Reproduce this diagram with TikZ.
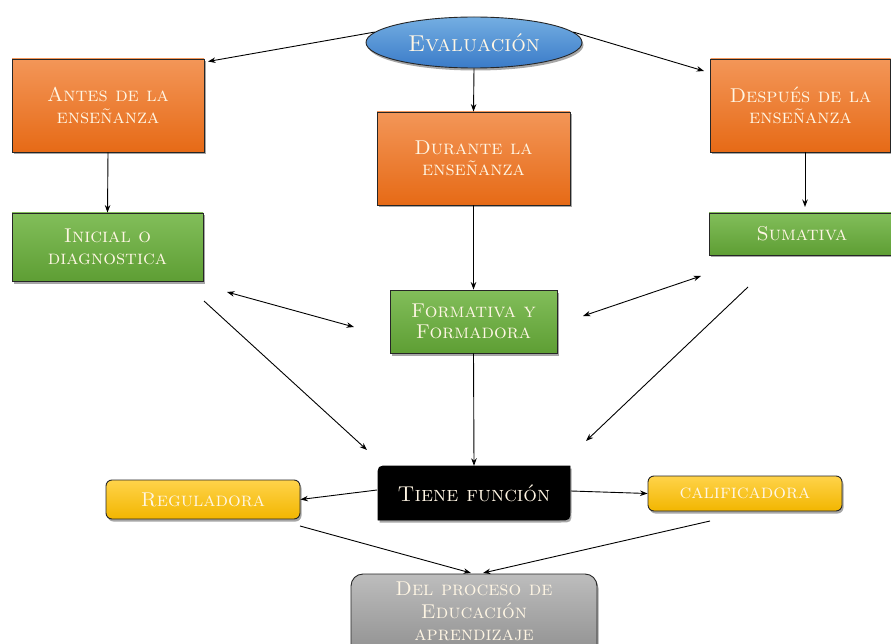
\documentclass[tikz,border=0pt]{standalone}
\usepackage{fontspec}
\usetikzlibrary{shadows,arrows.meta,shapes.geometric}
\definecolor{txt}{HTML}{FFF6E4}
\definecolor{blT}{HTML}{74AEE2}
\definecolor{blB}{HTML}{3A7BC8}
\definecolor{orT}{HTML}{F39658}
\definecolor{orB}{HTML}{E66A16}
\definecolor{grT}{HTML}{82BE5A}
\definecolor{grB}{HTML}{5E9E34}
\definecolor{yeT}{HTML}{FFD34A}
\definecolor{yeB}{HTML}{F2B600}
\definecolor{gyT}{HTML}{BDBDBD}
\definecolor{gyB}{HTML}{8A8A8A}
\tikzset{
  lbl/.style={text=txt, align=center, font=\scshape\fontsize{20}{21.5}\selectfont, inner sep=0pt},
  shad/.style={drop shadow={shadow xshift=1.5pt, shadow yshift=-2.5pt, opacity=0.35, fill=black}},
  boxbase/.style={lbl, shad, draw=black!85, line width=0.9pt},
  obox/.style={boxbase, top color=orT, bottom color=orB},
  gbox/.style={boxbase, top color=grT, bottom color=grB},
  ybox/.style={boxbase, top color=yeT, bottom color=yeB, rounded corners=6pt},
  gybox/.style={boxbase, top color=gyT, bottom color=gyB, rounded corners=12pt},
  arr/.style={-{Stealth[length=7.5pt,width=5.5pt]}, line width=0.9pt, black},
  darr/.style={{Stealth[length=7.5pt,width=5.5pt]}-{Stealth[length=7.5pt,width=5.5pt]}, line width=0.9pt, black}
}
\begin{document}
\begin{tikzpicture}[x=1pt,y=-1pt]
\clip (0,0) rectangle (891,644);
\fill[white] (0,0) rectangle (891,644);

% nodes
\node[boxbase, ellipse, top color=blT, bottom color=blB, minimum width=216pt, minimum height=51pt,
      font=\scshape\fontsize{23}{26}\selectfont] (eval) at (474,42.5) {Evaluación};
\node[obox, minimum width=192pt, minimum height=93pt] (antes) at (108,105.5) {Antes de la\\enseñanza};
\node[obox, minimum width=193pt, minimum height=93pt] (durante) at (473.5,158.5) {Durante la\\enseñanza};
\node[obox, minimum width=180pt, minimum height=93pt] (despues) at (800.5,105.5) {Después de la\\enseñanza};
\node[gbox, minimum width=191pt, minimum height=68pt] (inicial) at (107.5,247) {Inicial o\\diagnostica};
\node[gbox, minimum width=167pt, minimum height=63pt] (formativa) at (473.5,321.5) {Formativa y\\Formadora};
\node[gbox, minimum width=186pt, minimum height=42pt] (sumativa) at (802,234) {Sumativa};
\node[ybox, minimum width=194pt, minimum height=39pt] (regul) at (203,499.5) {Reguladora};
\node[ybox, minimum width=194pt, minimum height=35pt] (calif) at (745,493.5) {calificadora};
\node[gybox, minimum width=246pt, minimum height=92pt] (proceso) at (474,620) {};
\node[lbl, anchor=north, font=\scshape\fontsize{20}{22.5}\selectfont] (procesotxt) at (474,582) {Del proceso de\\Educación\\aprendizaje};

% Tiene funcion (diagonal rounded corners)
\path[shad, fill=black, draw=black, line width=0.9pt]
  (378,520) -- (378,477) .. controls (378,466) .. (389,466) -- (570,466) -- (570,509)
  .. controls (570,520) .. (559,520) -- cycle;
\node[lbl, minimum width=192pt, minimum height=54pt, font=\scshape\fontsize{21.5}{24}\selectfont] (tiene) at (474,493) {Tiene función};

% free coordinates
\coordinate (a1) at (208,61.5);
\coordinate (a2) at (704,71);
\coordinate (ds) at (805,152);
\coordinate (de) at (805,207);
\coordinate (d1a) at (227,292);
\coordinate (d1b) at (354,327);
\coordinate (d2a) at (583,316);
\coordinate (d2b) at (701,276);
\coordinate (l1s) at (204,301);
\coordinate (l1e) at (367,450);
\coordinate (l2s) at (748,287);
\coordinate (l2e) at (586,441);
\coordinate (r1s) at (300,526);
\coordinate (r1e) at (471,573);
\coordinate (r2s) at (710,521);
\coordinate (r2e) at (483,573);
\coordinate (tl) at (377,490);
\coordinate (tr) at (571,491);

% connectors
\draw[arr] (eval.174) -- (a1);
\draw[arr] (eval.6) -- (a2);
\draw[arr] (eval.south) -- (durante.north);
\draw[arr] (antes.south) -- (inicial.north);
\draw[arr] (ds) -- (de);
\draw[arr] (durante.south) -- (formativa.north);
\draw[darr] (d1a) -- (d1b);
\draw[darr] (d2a) -- (d2b);
\draw[arr] (l1s) -- (l1e);
\draw[arr] (l2s) -- (l2e);
\draw[arr] (formativa.south) -- (tiene.north);
\draw[arr] (tl) -- (regul.east);
\draw[arr] (tr) -- (calif.west);
\draw[arr] (r1s) -- (r1e);
\draw[arr] (r2s) -- (r2e);
\end{tikzpicture}
\end{document}
